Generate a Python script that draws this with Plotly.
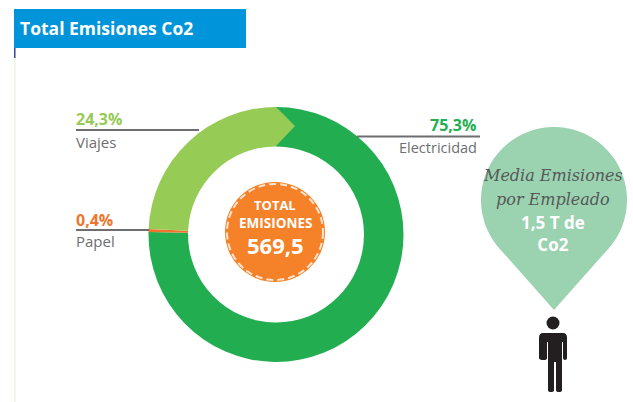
import numpy as np
import plotly.graph_objects as go

categories = ["Electricidad", "Papel", "Viajes"]
shares = [75.3, 0.4, 24.3]
share_labels = ["75,3%", "0,4%", "24,3%"]
colors = ["#22AE50", "#F0742E", "#96CB55"]
title = "Total Emisiones Co2"
total_value = "569,5"
media_value = ["1,5 T de", "Co2"]

W, H = 633, 402
cx, cy, R = 276, 234.5, 127.5
FONT = "Open Sans"

fig = go.Figure()
fig.add_trace(go.Pie(
    labels=categories, values=shares, sort=False, direction="clockwise", rotation=0,
    hole=0.69, textinfo="none", hoverinfo="label+percent", showlegend=False,
    marker=dict(colors=colors, line=dict(width=0)),
    domain=dict(x=[(cx - R) / W, (cx + R) / W], y=[1 - (cy + R) / H, 1 - (cy - R) / H]),
))

shapes = []
def rect(x0, y0, x1, y1, c):
    shapes.append(dict(type="rect", x0=x0, y0=y0, x1=x1, y1=y1, fillcolor=c, line_width=0, layer="above"))
def line(x0, y0, x1, y1, c="#6D6E71", w=1.8):
    shapes.append(dict(type="line", x0=x0, y0=y0, x1=x1, y1=y1, line=dict(color=c, width=w), layer="above"))
def path(d, c):
    shapes.append(dict(type="path", path=d, fillcolor=c, line_width=0, layer="above"))
def circle(x, y, r, fill, lc=None, lw=0, dash="solid"):
    shapes.append(dict(type="circle", x0=x - r, y0=y - r, x1=x + r, y1=y + r, fillcolor=fill,
                       line=dict(color=lc or fill, width=lw, dash=dash), layer="above"))

# page furniture
rect(14, 48, 16, 402, "#F1F7E6")
rect(14, 48, 15.5, 58, "#2F4F9E")
rect(14, 9, 246, 48, "#0095DA")

# arrow tip of the light green slice
path("M 276 107 L 295 126 L 276 146 Z", colors[2])

# leader lines
line(76, 130, 199, 130)
line(76, 230, 149, 230)
line(357, 136.5, 480, 136.5)

# centre badge
circle(275, 232, 50, "#F58229")
circle(275, 232, 48, "rgba(0,0,0,0)", "#FDE3CF", 2, "7px,4px")

# pin
pcx, pcy, pr, tipy = 554, 200, 73, 310
a = np.arccos(pr / (tipy - pcy))
th = np.linspace(np.pi / 2 + a, 2.5 * np.pi - a, 80)
pts = [(pcx + pr * np.cos(t), pcy + pr * np.sin(t)) for t in th]
d = "M " + " L ".join(f"{x:.1f} {y:.1f}" for x, y in pts) + f" L {pcx} {tipy} Z"
path(d, "#9BD2AF")

# person
K = "#231F20"
circle(553, 323, 6.5, K)
path("M 543 333 L 563 333 Q 567 333 567 338 L 567 358 Q 567 360 565 360 Q 563 360 563 358 "
     "L 563 342 L 562 342 L 562 390 Q 562 392 559 392 Q 556 392 556 390 L 556 362 L 554 362 "
     "L 554 390 Q 554 392 551 392 Q 548 392 548 390 L 548 342 L 547 342 L 547 358 Q 547 360 "
     "544 360 Q 539 360 539 358 L 539 338 Q 539 333 543 333 Z", K)

ann = []
def text(x, y, s, size, color, anchor="left", bold=False, font=FONT, italic=False):
    ann.append(dict(x=x, y=y, xref="x", yref="y", text=f"<b>{s}</b>" if bold else s, showarrow=False,
                    xanchor=anchor, yanchor="middle", align="center",
                    font=dict(family=font, size=size, color=color,
                              style="italic" if italic else "normal")))

text(18, 27.5, title, 17.5, "white", bold=True)
text(74, 119, share_labels[2], 16, colors[2], bold=True)
text(74, 142, categories[2], 15, "#6D6E71")
text(74, 220, share_labels[1], 16, colors[1], bold=True)
text(74, 241, categories[1], 15, "#6D6E71")
text(478, 125, share_labels[0], 16, colors[0], "right", bold=True)
text(479, 147, categories[0], 14.5, "#6D6E71", "right")
text(275, 205, "TOTAL", 13, "white", "center", bold=True)
text(275, 223, "EMISIONES", 13.5, "white", "center", bold=True)
text(275, 245, total_value, 22, "white", "center", bold=True)
text(553, 175, "Media Emisiones", 16, "#55595A", "center", font="DejaVu Serif", italic=True)
text(553, 199, "por Empleado", 16, "#55595A", "center", font="DejaVu Serif", italic=True)
text(553, 233, "<br>".join(f"<b>{s}</b>" for s in media_value), 17, "white", "center")

fig.update_layout(
    width=W, height=H, margin=dict(l=0, r=0, t=0, b=0), paper_bgcolor="white", plot_bgcolor="rgba(0,0,0,0)",
    xaxis=dict(range=[0, W], visible=False, domain=[0, 1], fixedrange=True),
    yaxis=dict(range=[H, 0], visible=False, domain=[0, 1], fixedrange=True),
    shapes=shapes, annotations=ann, showlegend=False,
)
fig.write_html("out.html", config=dict(displayModeBar=False),
               post_script="document.body.style.margin='0';document.body.style.overflow='hidden';")
